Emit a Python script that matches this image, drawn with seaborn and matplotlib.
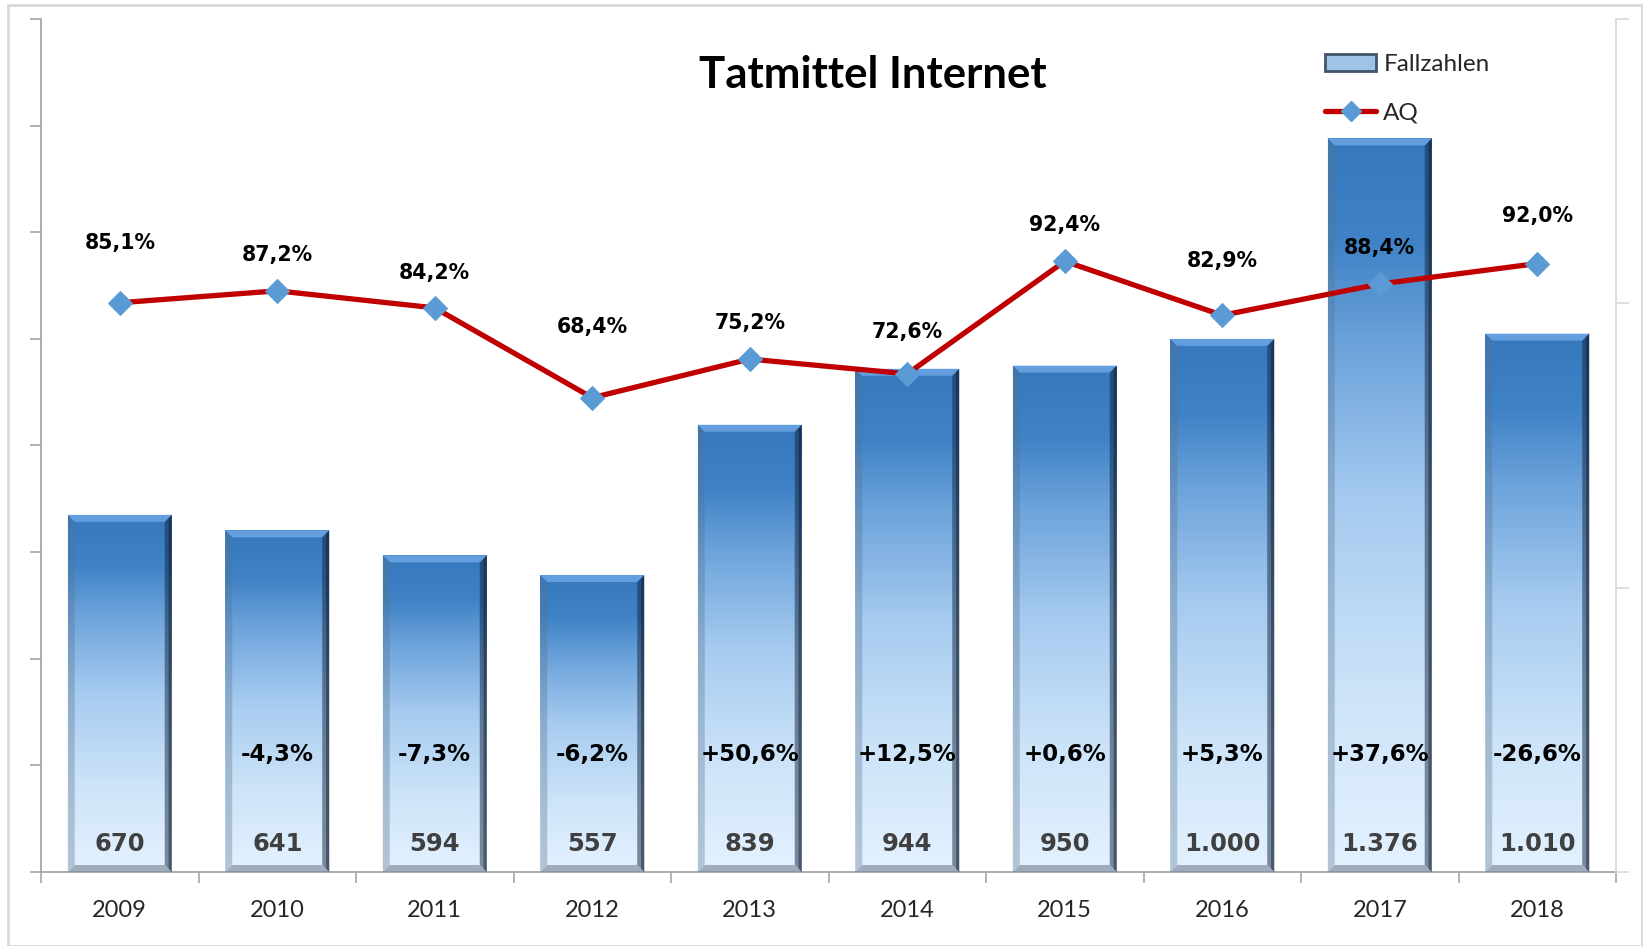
import numpy as np
import pandas as pd
import matplotlib
matplotlib.use("Agg")
import matplotlib.pyplot as plt
import seaborn as sns
from matplotlib.colors import LinearSegmentedColormap
from matplotlib.patches import Polygon, Rectangle, Patch
from matplotlib.lines import Line2D

# data
years = ['2009', '2010', '2011', '2012', '2013', '2014', '2015', '2016', '2017', '2018']
fallzahlen = [670, 641, 594, 557, 839, 944, 950, 1000, 1376, 1010]
aq = [85.1, 87.2, 84.2, 68.4, 75.2, 72.6, 92.4, 82.9, 88.4, 92.0]

# how far each AQ label sits above its marker (points), as placed in the original
aq_label_lift = [43, 26, 25, 51, 26, 30, 26, 39, 26, 34]


def de_num(v):
    return f"{v:,}".replace(",", ".")


def de_pct(v, sign=False):
    s = f"{v:+.1f}" if sign else f"{v:.1f}"
    return s.replace(".", ",") + "%"


df = pd.DataFrame({'Jahr': years, 'Fallzahlen': fallzahlen, 'AQ': aq})
df['Veraenderung'] = df['Fallzahlen'].pct_change() * 100

sns.set_style('white')
plt.rcParams['font.family'] = ['Lato', 'DejaVu Sans']

W, H = 1643, 946
fig = plt.figure(figsize=(W / 100, H / 100), dpi=100)
ax = fig.add_axes([41 / W, 74 / H, 1575 / W, 853 / H])

sns.barplot(data=df, x='Jahr', y='Fallzahlen', color='#5b9bd5', width=0.66,
            saturation=1, ax=ax, zorder=1)
ax.set_xlim(-0.5, len(years) - 0.5)
ax.set_ylim(0, 1600)

# gradient fill + bevel, like the Excel 3D bars
bar_cmap = LinearSegmentedColormap.from_list('bar', [
    (0.0, '#e4f2ff'), (0.25, '#cce3f8'), (0.5, '#a6cbf0'),
    (0.72, '#6ca3db'), (0.86, '#3f82c6'), (1.0, '#3778bd')])
grad = np.linspace(0, 1, 256).reshape(-1, 1)

sx = ax.bbox.width / (ax.get_xlim()[1] - ax.get_xlim()[0])
sy = ax.bbox.height / (ax.get_ylim()[1] - ax.get_ylim()[0])
bx, by = 7 / sx, 7 / sy

bars = list(ax.patches)
for bar in bars:
    x0, y0 = bar.get_x(), bar.get_y()
    x1, y1 = x0 + bar.get_width(), y0 + bar.get_height()
    im = ax.imshow(grad, cmap=bar_cmap, origin='lower', aspect='auto',
                   extent=[x0, x1, y0, y1], interpolation='bicubic', zorder=2)
    im.set_clip_path(bar)
    ax.add_patch(Polygon([(x1, y1), (x1, y0), (x1 - bx, y0 + by), (x1 - bx, y1 - by)],
                         fc=(0.07, 0.14, 0.24), alpha=0.5, lw=0, zorder=3))
    ax.add_patch(Polygon([(x1, y1), (x1, y0), (x1 - bx * 0.45, y0 + by * 0.45),
                          (x1 - bx * 0.45, y1 - by * 0.45)],
                         fc=(0.05, 0.1, 0.18), alpha=0.45, lw=0, zorder=3))
    ax.add_patch(Polygon([(x0, y1), (x0 + bx, y1 - by), (x0 + bx, y0 + by), (x0, y0)],
                         fc=(0.35, 0.45, 0.55), alpha=0.35, lw=0, zorder=3))
    ax.add_patch(Polygon([(x0, y1), (x1, y1), (x1 - bx, y1 - by), (x0 + bx, y1 - by)],
                         fc=(0.45, 0.68, 0.92), alpha=0.75, lw=0, zorder=3))
    ax.add_patch(Polygon([(x0, y0), (x1, y0), (x1 - bx, y0 + by), (x0 + bx, y0 + by)],
                         fc=(0.48, 0.53, 0.6), alpha=0.65, lw=0, zorder=3))
ax.set_xlim(-0.5, len(years) - 0.5)
ax.set_ylim(0, 1600)

# labels inside the bars
for i, row in df.iterrows():
    ax.text(i, 52, de_num(row['Fallzahlen']), ha='center', va='center',
            fontsize=17.5, fontweight='bold', color='#404040',
            family='DejaVu Sans', zorder=6)
    if not np.isnan(row['Veraenderung']):
        ax.text(i, 220, de_pct(row['Veraenderung'], sign=True), ha='center',
                va='center', fontsize=16.5, fontweight='bold', color='black',
                family='DejaVu Sans', zorder=6)

# axes styling
ax.set_xlabel('')
ax.set_ylabel('')
ax.set_yticks(np.arange(0, 1601, 200))
ax.set_yticklabels([])
ax.set_xticks(range(len(years)))
ax.set_xticklabels(years)
ax.set_xticks(np.arange(-0.5, len(years), 1), minor=True)
ax.tick_params(axis='x', which='major', length=0, pad=20, labelsize=17,
               labelcolor='#262626', bottom=True)
ax.tick_params(axis='x', which='minor', length=8, width=1.2, color='#a6a6a6',
               direction='out', bottom=True)
ax.tick_params(axis='y', length=8, width=1.2, color='#a6a6a6', direction='out',
               left=True)
for s in ['top', 'right']:
    ax.spines[s].set_visible(False)
for s in ['left', 'bottom']:
    ax.spines[s].set_color('#a6a6a6')
    ax.spines[s].set_linewidth(1.3)

# AQ line on a secondary axis
ax2 = ax.twinx()
sns.lineplot(x=np.arange(len(years)), y=df['AQ'].values, ax=ax2, color='#c00000',
             lw=3.8, marker='D', ms=12, mfc='#5b9bd5', mec='#5b9bd5', zorder=5)
ax2.set_ylim(-15, 135)
ax2.set_yticks([-15, 35, 85, 135])
ax2.set_yticklabels([])
ax2.set_ylabel('')
ax2.tick_params(axis='y', length=9, width=1.2, color='#d9d9d9', direction='out',
                right=True)
for s in ['top', 'left', 'bottom']:
    ax2.spines[s].set_visible(False)
ax2.spines['right'].set_color('#d9d9d9')
ax2.spines['right'].set_linewidth(1.3)
ax2.set_xlim(-0.5, len(years) - 0.5)

for i, (v, lift) in enumerate(zip(aq, aq_label_lift)):
    ax2.annotate(de_pct(v), (i, v), xytext=(0, lift), textcoords='offset points',
                 ha='center', va='center', fontsize=14.8, fontweight='bold',
                 family='DejaVu Sans', color='black', zorder=7)

fig.text(0.531, 0.921, 'Tatmittel Internet', ha='center', va='center',
         fontsize=31.5, fontweight='bold', color='black')

handles = [Patch(facecolor='#9dc3e6', edgecolor='#44546a', lw=2),
           Line2D([], [], color='#c00000', lw=3.8, marker='D', ms=10,
                  mfc='#5b9bd5', mec='#5b9bd5')]
fig.legend(handles, ['Fallzahlen', 'AQ'], loc='upper left',
           bbox_to_anchor=(0.8065, 0.943), frameon=False, fontsize=17.5,
           handlelength=2.1, handletextpad=0.3, labelspacing=1.15,
           borderpad=0, borderaxespad=0, labelcolor='#262626')

fig.add_artist(Rectangle((8 / W, 0), (W - 9) / W, (H - 5) / H,
                         transform=fig.transFigure, fill=False,
                         ec='#d9d9d9', lw=2))

fig.savefig('out.png', dpi=100)
